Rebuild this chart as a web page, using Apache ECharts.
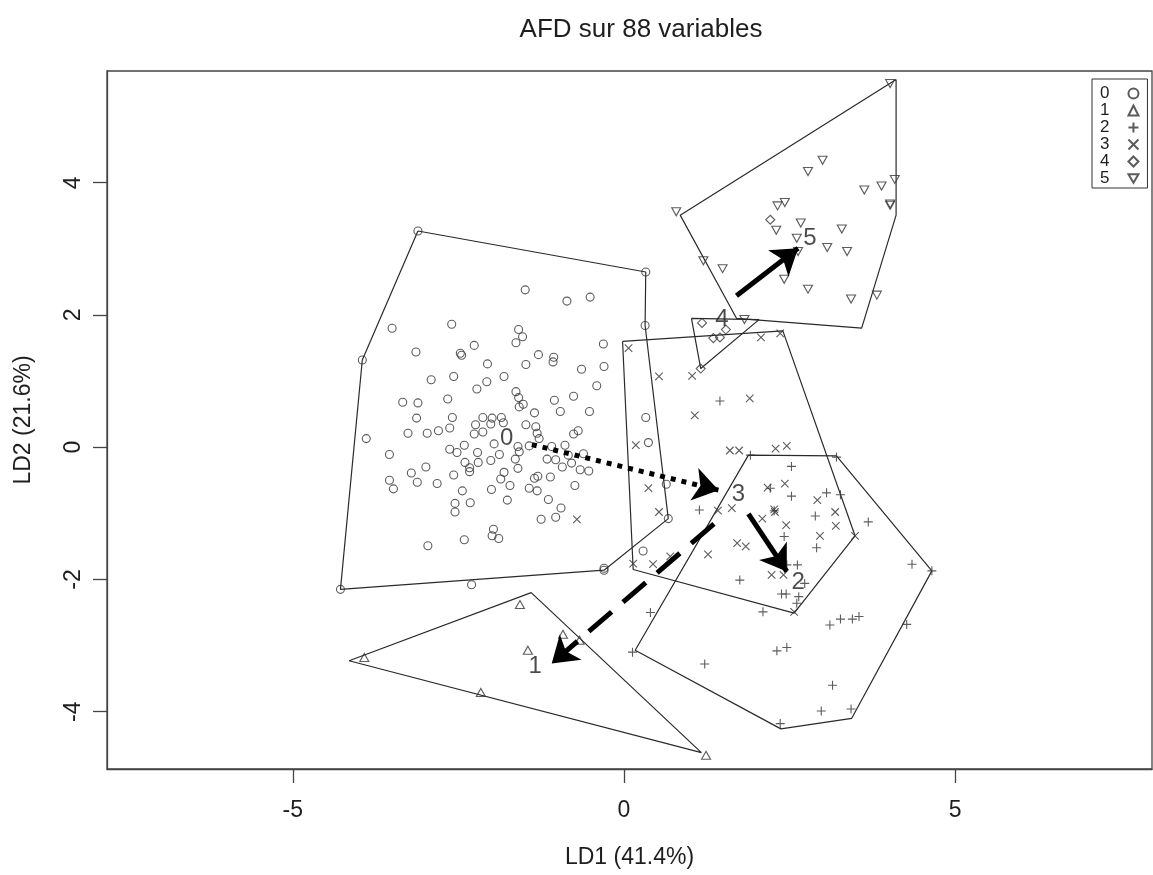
<!DOCTYPE html>
<html><head><meta charset="utf-8">
<script src="https://cdn.jsdelivr.net/npm/echarts@6/dist/echarts.min.js"></script>
<style>html,body{margin:0;padding:0;background:#fff}#c{width:1153px;height:875px}</style>
</head><body><div id="c"></div>
<script>
// ---- data (LD1, LD2) ----
const groupNames = ['0', '1', '2', '3', '4', '5'];
const xTicks = [-5, 0, 5];
const yTicks = [-4, -2, 0, 2, 4];

const group0 = [
[-3.11,3.27],[0.33,2.65],[-3.95,1.32],[-1.49,2.38],[-0.86,2.21],[-0.51,2.27],[-3.50,1.80],[-2.60,1.86],[-1.59,1.78],[-1.53,1.67],[-1.63,1.58],[0.32,1.84],[-2.26,1.54],[-0.31,1.56],[-3.14,1.44],[-2.47,1.42],[-2.45,1.39],[-2.06,1.26],[-1.29,1.40],[-1.06,1.36],[-1.07,1.29],[-1.48,1.25],[-0.64,1.18],[-0.30,1.22],[-2.91,1.02],[-2.57,1.07],[-2.07,0.99],[-1.81,1.07],[-2.22,0.88],[-0.41,0.93],[-1.63,0.84],[-1.59,0.75],[-1.52,0.65],[-1.58,0.61],[-0.76,0.77],[-1.05,0.71],[-3.34,0.68],[-3.11,0.67],[-2.66,0.73],[-1.35,0.52],[-0.96,0.54],[-0.52,0.54],[-3.13,0.44],[-2.59,0.45],[-2.13,0.45],[-1.99,0.44],[-1.85,0.45],[0.33,0.45],
[-3.89,0.13],[-3.26,0.21],[-2.97,0.21],[-2.80,0.25],[-2.63,0.29],[-2.24,0.34],[-2.26,0.20],[-2.13,0.23],[-2.01,0.35],[-1.82,0.37],[-1.48,0.34],[-1.33,0.31],[-1.31,0.21],[-1.28,0.13],[-0.69,0.25],[-0.76,0.20],[0.37,0.07],[-3.54,-0.11],[-2.63,-0.03],[-2.52,-0.08],[-2.41,0.03],[-2.21,-0.08],[-1.96,0.05],[-1.88,-0.11],[-1.60,0.01],[-1.58,-0.07],[-1.43,0.02],[-1.09,0.01],[-0.89,0.03],[-1.16,-0.18],[-1.03,-0.19],[-0.84,-0.12],[-0.79,-0.24],[-0.61,-0.10],[-0.93,-0.30],[-0.66,-0.34],[-0.53,-0.36],[-1.64,-0.18],[-2.01,-0.20],[-2.20,-0.23],[-2.40,-0.23],[-2.33,-0.31],[-2.33,-0.37],[-1.60,-0.32],[-2.99,-0.30],[-2.57,-0.42],[-3.21,-0.39],[-3.54,-0.50],[-3.48,-0.63],[-3.12,-0.53],[-2.82,-0.55],[-1.81,-0.38],[-1.86,-0.48],[-1.72,-0.58],[-1.35,-0.47],[-1.30,-0.44],[-1.11,-0.45],[-0.74,-0.58],[-2.00,-0.64],[-1.43,-0.62],[-1.31,-0.66],[-2.44,-0.66],[-2.55,-0.85],[-2.55,-0.98],[-2.32,-0.84],[-1.76,-0.80],[-1.14,-0.79],[-0.95,-0.92],[-1.03,-1.06],[-1.25,-1.09],[-1.97,-1.24],[-1.99,-1.34],[-1.89,-1.38],[-2.41,-1.40],[-2.96,-1.49],[0.29,-1.57],[-0.30,-1.86],[-0.30,-1.83],[-2.30,-2.08],[-4.28,-2.15],[0.64,-0.56],[0.67,-1.08]
];
const group1 = [[-1.57,-2.38],[-3.92,-3.18],[-0.92,-2.83],[-0.67,-2.92],[-1.45,-3.07],[-2.16,-3.71],[1.24,-4.66]];
const group2 = [
[1.45,0.70],[1.91,-0.12],[3.21,-0.15],[2.53,-0.29],[2.21,-0.62],[2.53,-0.74],[3.06,-0.69],[3.27,-0.72],[1.14,-0.95],[2.27,-0.96],[2.89,-1.04],[3.69,-1.13],[2.42,-1.35],[2.91,-1.52],[2.46,-1.78],[2.62,-1.78],[4.35,-1.77],[4.65,-1.87],[2.73,-2.06],[1.75,-2.01],[2.38,-2.22],[2.45,-2.22],[2.64,-2.26],[2.61,-2.36],[2.10,-2.49],[0.40,-2.50],[3.11,-2.69],[3.27,-2.60],[3.45,-2.60],[3.55,-2.56],[4.27,-2.68],[2.31,-3.08],[2.46,-3.03],[1.22,-3.28],[0.13,-3.10],[3.15,-3.60],[2.98,-3.99],[3.43,-3.96],[2.36,-4.18]
];
const group3 = [
[0.07,1.50],[0.53,1.07],[1.03,1.08],[2.07,1.66],[2.36,1.72],[1.90,0.74],[1.07,0.48],[0.18,0.03],[1.60,-0.05],[1.74,-0.05],[2.29,-0.02],[2.46,0.02],[0.37,-0.62],[2.43,-0.55],[2.17,-0.61],[1.42,-0.96],[1.63,-0.92],[0.53,-0.98],[2.09,-1.08],[2.28,-0.98],[2.27,-0.94],[2.45,-1.18],[2.92,-0.80],[3.19,-0.98],[3.20,-1.19],[2.96,-1.34],[3.49,-1.34],[1.71,-1.45],[1.84,-1.50],[1.27,-1.62],[2.23,-1.93],[2.41,-1.93],[0.14,-1.76],[0.44,-1.77],[0.70,-1.65],[2.57,-2.49],[-0.71,-1.09]
];
const group4 = [[1.18,1.88],[1.35,1.65],[1.54,1.78],[1.45,1.66],[1.16,1.19],[2.21,3.44]];
const group5 = [
[4.02,5.50],[3.00,4.34],[2.78,4.17],[4.09,4.05],[3.63,3.89],[3.89,3.95],[4.02,3.66],[4.02,3.68],[0.79,3.56],[2.32,3.65],[2.43,3.70],[2.30,3.28],[2.67,3.39],[3.29,3.30],[2.61,3.16],[3.07,3.02],[3.37,2.96],[2.63,2.96],[1.20,2.82],[1.49,2.70],[2.42,2.54],[2.78,2.39],[3.43,2.24],[3.82,2.30],[1.82,1.93]
];

// convex hull outlines, as drawn
const hull0 = [[-3.11,3.27],[0.33,2.65],[0.32,1.84],[0.67,-1.08],[-0.30,-1.86],[-4.28,-2.15],[-3.95,1.32]];
const hull1 = [[-4.15,-3.23],[-1.40,-2.20],[1.17,-4.62]];
const hull2 = [[1.88,-0.12],[3.21,-0.13],[4.65,-1.87],[3.44,-4.10],[2.37,-4.26],[0.17,-3.07]];
const hull3 = [[-0.02,1.60],[2.40,1.76],[3.49,-1.34],[2.57,-2.51],[0.14,-1.85]];
const hull4 = [[1.02,1.95],[2.04,1.93],[1.16,1.19]];
const hull5 = [[4.11,5.56],[4.11,3.51],[3.59,1.80],[1.70,1.95],[0.85,3.51]];

// group centroid labels
const centroidLabels = ['0', '1', '2', '3', '4', '5'];
const centroidX = [-1.77, -1.34, 2.63, 1.73, 1.48, 2.81];
const centroidY = [0.13, -3.32, -2.05, -0.71, 1.93, 3.16];

// arrows between groups: [from, to]
const arrowFrom = [[-1.39, 0.04], [1.88, -1.01], [1.36, -1.16], [1.70, 2.29]];
const arrowTo   = [[1.43, -0.65], [2.46, -1.88], [-1.09, -3.27], [2.63, 3.01]];
const arrowDash = [[5, 6], 'solid', [30, 15], 'solid'];

// ---- chart ----
const FONT = 'Liberation Sans, Arial, Helvetica, sans-serif';
const INK = '#1e1e1e';
const PT = '#333';
const symbolDefs = [
  { symbol: 'circle', size: 8 },
  { symbol: 'triangle', size: [9, 8] },
  { symbol: 'path://M5,0L5,10M0,5L10,5', size: 9 },
  { symbol: 'path://M0,0L10,10M10,0L0,10', size: 7.5 },
  { symbol: 'diamond', size: [9, 9] },
  { symbol: 'path://M0,0L10,0L5,8.66Z', size: [9, 8] }
];
const groupPoints = [group0, group1, group2, group3, group4, group5];
const hulls = [hull0, hull1, hull2, hull3, hull4, hull5];

const series = [];
hulls.forEach((h, i) => {
  series.push({
    type: 'line', name: 'hull' + i, data: h.concat([h[0]]),
    symbol: 'none', showSymbol: false, silent: true, z: 1,
    lineStyle: { color: '#2a2a2a', width: 1.2 }
  });
});
groupPoints.forEach((pts, i) => {
  series.push({
    type: 'scatter', name: groupNames[i], data: pts,
    symbol: symbolDefs[i].symbol, symbolSize: symbolDefs[i].size, z: 2,
    itemStyle: { color: 'rgba(0,0,0,0)', borderColor: PT, borderWidth: 1.1 }
  });
});
arrowFrom.forEach((f, i) => {
  series.push({
    type: 'lines', coordinateSystem: 'cartesian2d', z: 4, silent: true,
    symbol: ['none', 'arrow'], symbolSize: [20, 25], symbolOffset: [0, 12],
    lineStyle: { color: '#000', width: 5, type: arrowDash[i], cap: 'butt', opacity: 1 },
    data: [{ coords: [f, arrowTo[i]] }]
  });
});
series.push({
  type: 'scatter', name: 'centroids', z: 5, silent: true,
  data: centroidLabels.map((n, i) => ({ name: n, value: [centroidX[i], centroidY[i]] })),
  symbol: 'circle', symbolSize: 1, itemStyle: { color: 'rgba(0,0,0,0)' },
  label: { show: true, position: 'inside', formatter: p => p.name, fontSize: 24, fontFamily: FONT, color: INK }
});

const chart = echarts.init(document.getElementById('c'), null, { renderer: 'canvas' });
chart.setOption({
  animation: false,
  backgroundColor: '#fff',
  title: {
    text: 'AFD sur 88 variables', left: 636, top: 12, textAlign: 'center',
    textStyle: { fontSize: 26, fontWeight: 'normal', fontFamily: FONT, color: INK }
  },
  grid: { left: 107, right: 1, top: 71, bottom: 106, show: true, borderColor: '#444', borderWidth: 1.3, containLabel: false },
  xAxis: {
    type: 'value', min: -7.805, max: 7.974,
    name: 'LD1 (41.4%)', nameLocation: 'middle', nameGap: 77,
    nameTextStyle: { fontSize: 23, fontFamily: FONT, color: INK },
    axisLine: { show: true, onZero: false, lineStyle: { color: '#444', width: 1.3 } },
    axisTick: { show: true, length: 14, customValues: xTicks, lineStyle: { color: '#444', width: 1.3 } },
    axisLabel: { customValues: xTicks, margin: 30, fontSize: 23, fontFamily: FONT, color: INK },
    splitLine: { show: false }
  },
  yAxis: {
    type: 'value', min: -4.867, max: 5.69,
    name: 'LD2 (21.6%)', nameLocation: 'middle', nameGap: 72,
    nameTextStyle: { fontSize: 23, fontFamily: FONT, color: INK },
    axisLine: { show: true, onZero: false, lineStyle: { color: '#444', width: 1.3 } },
    axisTick: { show: true, length: 14, customValues: yTicks, lineStyle: { color: '#444', width: 1.3 } },
    axisLabel: { customValues: yTicks, rotate: 90, margin: 22, fontSize: 23, fontFamily: FONT, color: INK },
    splitLine: { show: false }
  },
  legend: {
    data: groupNames, orient: 'vertical', left: 1092, top: 79, align: 'right',
    itemWidth: 10, itemHeight: 10, itemGap: 0, padding: [6, 8, 1, 8],
    borderColor: '#333', borderWidth: 1, selectedMode: false,
    textStyle: { fontSize: 17, lineHeight: 14, fontFamily: FONT, color: INK, padding: [0, 14, 0, 0] }
  },
  series: series
});
</script></body></html>
